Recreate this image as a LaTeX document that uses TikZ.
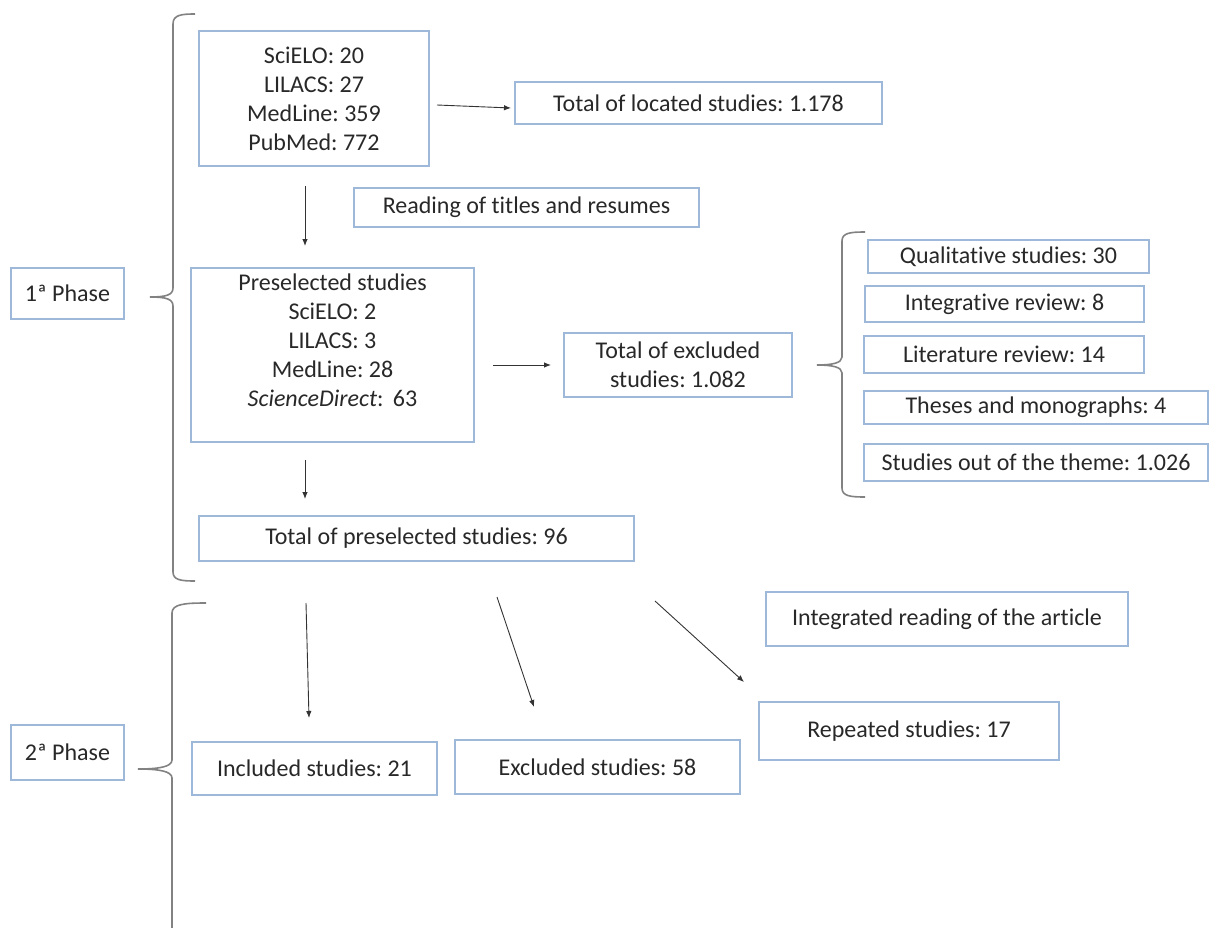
\documentclass[tikz,border=0pt]{standalone}
\usepackage{fontspec}
\setmainfont{Carlito}[Ligatures=NoCommon]
\usetikzlibrary{arrows.meta}
\definecolor{boxblue}{RGB}{158,184,218}
\definecolor{txt}{RGB}{40,40,40}
\definecolor{bracegray}{RGB}{130,130,130}
\frenchspacing
\begin{document}
\begin{tikzpicture}[x=1pt,y=-1pt,
  font=\fontsize{24}{29}\selectfont\frenchspacing,
  bx/.style={draw=boxblue,line width=1.3pt,text=txt,align=center,inner sep=0pt,anchor=center},
  arr/.style={draw=black!80,line width=0.9pt,-{Latex[length=7pt,width=5.5pt]}},
  brc/.style={draw=bracegray,line width=1.6pt}]
\useasboundingbox (0,0) rectangle (1209,928);
% boxes
\node[bx,minimum width=230pt,minimum height=135pt] (src) at (314,98.5) {SciELO: 20\\LILACS: 27\\MedLine: 359\\PubMed: 772};
\node[bx,minimum width=367pt,minimum height=42pt] (located) at (698.5,103) {Total of located studies: 1.178};
\node[bx,minimum width=345pt,minimum height=39pt] (reading) at (526.5,207.5) {Reading of titles and resumes};
\node[bx,minimum width=283pt,minimum height=174pt] (presel) at (332.5,355) {Preselected studies\\SciELO: 2\\LILACS: 3\\MedLine: 28\\\textit{ScienceDirect}: \,63\\\mbox{}};
\node[bx,minimum width=228pt,minimum height=64pt] (excl) at (678,365) {Total of excluded\\studies: 1.082};
\node[bx,minimum width=281pt,minimum height=33pt] (qual) at (1008.5,256.5) {Qualitative studies: 30};
\node[bx,minimum width=279pt,minimum height=36pt] (integ) at (1004.5,304) {Integrative review: 8};
\node[bx,minimum width=280pt,minimum height=37pt] (lit) at (1004,354.5) {Literature review: 14};
\node[bx,minimum width=344pt,minimum height=33pt] (theses) at (1036,407.5) {Theses and monographs: 4};
\node[bx,minimum width=344pt,minimum height=37pt] (outth) at (1036,462.5) {Studies out of the theme: 1.026};
\node[bx,minimum width=435pt,minimum height=45pt] (totpre) at (416.5,538.5) {Total of preselected studies: 96};
\node[bx,minimum width=362pt,minimum height=54pt] (intread) at (947,619) {Integrated reading of the article};
\node[bx,minimum width=300pt,minimum height=58pt] (repeated) at (909,731) {Repeated studies: 17};
\node[bx,minimum width=245pt,minimum height=53pt] (included) at (314.5,768.5) {Included studies: 21};
\node[bx,minimum width=285pt,minimum height=54pt] (excluded) at (597.5,767) {Excluded studies: 58};
\node[bx,minimum width=113pt,minimum height=51pt] (ph1) at (67.5,293.5) {1ª Phase};
\node[bx,minimum width=113pt,minimum height=55pt] (ph2) at (67.5,752.5) {2ª Phase};
% arrow end points
\coordinate (a1s) at (437,105); \coordinate (a1e) at (511,108);
\coordinate (a2s) at (305,186); \coordinate (a2e) at (305,246);
\coordinate (a3s) at (493,365); \coordinate (a3e) at (551,365);
\coordinate (a4s) at (305,460); \coordinate (a4e) at (305,499);
\coordinate (a5s) at (306,603); \coordinate (a5e) at (309,718);
\coordinate (a6s) at (497,597); \coordinate (a6e) at (534,707);
\coordinate (a7s) at (655,601); \coordinate (a7e) at (744,682);
\draw[arr] (a1s) -- (a1e);
\draw[arr] (a2s) -- (a2e);
\draw[arr] (a3s) -- (a3e);
\draw[arr] (a4s) -- (a4e);
\draw[arr] (a5s) -- (a5e);
\draw[arr] (a6s) -- (a6e);
\draw[arr] (a7s) -- (a7e);
% braces
\draw[brc] (195,14) .. controls (181,14) and (173,15) .. (173,24) -- (173,288)
  .. controls (173,295) and (166,297) .. (150,297)
  .. controls (166,297) and (173,299) .. (173,306) -- (173,572)
  .. controls (173,580) and (181,581) .. (195,581);
\draw[brc] (206,603) .. controls (185,603) and (172,604) .. (172,613) -- (172,760)
  .. controls (172,767) and (158,769) .. (138,769)
  .. controls (158,769) and (172,771) .. (172,778) -- (172,928);
\draw[brc] (865,232) .. controls (850,232) and (842,233) .. (842,241) -- (842,357)
  .. controls (842,363) and (832,365) .. (817,365)
  .. controls (832,365) and (842,367) .. (842,373) -- (842,488)
  .. controls (842,496) and (850,497) .. (865,497);
\end{tikzpicture}
\end{document}
